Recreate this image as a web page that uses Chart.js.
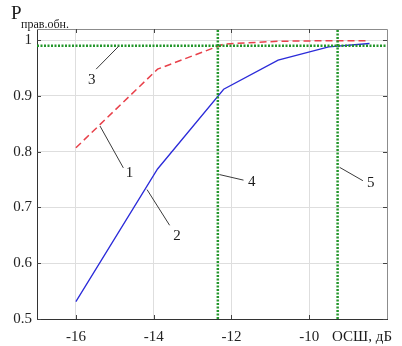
<!DOCTYPE html>
<html>
<head>
<meta charset="utf-8">
<script src="https://cdn.jsdelivr.net/npm/chart.js@4"></script>
<style>
  html, body { margin: 0; padding: 0; background: #fff; overflow: hidden; }
  #wrap { width: 402px; height: 346px; }
</style>
</head>
<body>
<div id="wrap"><canvas id="chart"></canvas></div>
<script>
// Data
const snr = [-16, -13.9, -12.2, -10.8, -9.5, -8.45];        // ОСШ, дБ
const curve1 = [0.807, 0.948, 0.993, 0.998, 0.999, 0.999];   // red dashed
const curve2 = [0.531, 0.769, 0.912, 0.964, 0.988, 0.994];   // blue solid
const threshold = 0.99;                                      // green horizontal (3)
const snrMarks = [-12.35, -9.27];                            // green verticals (4, 5)
const xTicks = [-16, -14, -12, -10];
const yTicks = [0.5, 0.6, 0.7, 0.8, 0.9, 1];
const xRange = [-17, -8];
const yRange = [0.5, 1.02];

// Curve numbers with leader lines, in data units: [text, fromX, fromY, toX, toY, textX, textY]
const callouts = [
  ['1', -15.38, 0.846, -14.78, 0.771, -14.62, 0.762],
  ['2', -14.17, 0.732, -13.59, 0.668, -13.40, 0.648],
  ['3', -14.90, 0.989, -15.48, 0.948, -15.59, 0.928],
  ['4', -12.31, 0.759, -11.69, 0.749, -11.48, 0.746],
  ['5', -9.22, 0.772, -8.62, 0.748, -8.42, 0.744],
];

const serif = '"Liberation Serif", serif';
const green = '#23962b';

const toPoints = (xs, ys) => xs.map((x, i) => ({ x: x, y: ys[i] }));

const greenLines = [
  toPoints(xRange, [threshold, threshold]),
  ...snrMarks.map((x) => toPoints([x, x], yRange)),
];

// Frame, inside ticks, callouts and axis captions
const decorPlugin = {
  id: 'decor',
  afterDatasetsDraw(chart) {
    const { ctx, chartArea: a, scales: { x, y } } = chart;
    ctx.save();

    /* Top and right edges of the box */
    ctx.strokeStyle = '#8c8c8c';
    ctx.lineWidth = 1;
    ctx.beginPath();
    ctx.moveTo(a.left, a.top + 0.5);
    ctx.lineTo(a.right + 0.5, a.top + 0.5);
    ctx.lineTo(a.right + 0.5, a.bottom);
    ctx.stroke();

    /* Ticks pointing inward */
    ctx.strokeStyle = '#444';
    ctx.beginPath();
    xTicks.forEach((v) => {
      const px = Math.round(x.getPixelForValue(v)) + 0.5;
      ctx.moveTo(px, a.top); ctx.lineTo(px, a.top + 4);
      ctx.moveTo(px, a.bottom); ctx.lineTo(px, a.bottom - 4);
    });
    yTicks.forEach((v) => {
      const py = Math.round(y.getPixelForValue(v)) + 0.5;
      ctx.moveTo(a.left, py); ctx.lineTo(a.left + 4, py);
      ctx.moveTo(a.right, py); ctx.lineTo(a.right - 4, py);
    });
    ctx.stroke();

    /* Callouts */
    ctx.strokeStyle = '#3a3a3a';
    ctx.fillStyle = '#1a1a1a';
    ctx.font = '15px ' + serif;
    ctx.textAlign = 'center';
    ctx.textBaseline = 'middle';
    callouts.forEach(([text, x0, y0, x1, y1, tx, ty]) => {
      ctx.beginPath();
      ctx.moveTo(x.getPixelForValue(x0), y.getPixelForValue(y0));
      ctx.lineTo(x.getPixelForValue(x1), y.getPixelForValue(y1));
      ctx.stroke();
      ctx.fillText(text, x.getPixelForValue(tx), y.getPixelForValue(ty));
    });

    /* Axis captions */
    ctx.textAlign = 'left';
    ctx.textBaseline = 'alphabetic';
    ctx.font = '19px ' + serif;
    ctx.fillText('P', 11, 19);
    ctx.font = '12px ' + serif;
    ctx.fillText('прав.обн.', 21, 28);
    ctx.font = '15px ' + serif;
    ctx.textAlign = 'right';
    ctx.fillText('ОСШ, дБ', 392, 341);

    ctx.restore();
  },
};

new Chart(document.getElementById('chart'), {
  type: 'line',
  data: {
    datasets: [
      ...greenLines.map((pts) => ({
        data: pts,
        borderColor: green,
        borderWidth: 2.5,
        borderDash: [2, 1.5],
        pointRadius: 0,
      })),
      {
        data: toPoints(snr, curve1),
        borderColor: '#e8404a',
        borderWidth: 1.5,
        borderDash: [7, 4],
        pointRadius: 0,
      },
      {
        data: toPoints(snr, curve2),
        borderColor: '#2b2bd9',
        borderWidth: 1.3,
        pointRadius: 0,
      },
    ],
  },
  options: {
    responsive: true,
    maintainAspectRatio: false,
    animation: false,
    layout: { padding: { left: 0, right: 15, top: 29, bottom: 0 } },
    plugins: { legend: { display: false }, tooltip: { enabled: false } },
    scales: {
      x: {
        type: 'linear',
        min: xRange[0],
        max: xRange[1],
        afterBuildTicks: (s) => { s.ticks = xTicks.map((v) => ({ value: v })); },
        afterFit: (s) => { s.height = 27; },
        grid: { color: '#dedede', drawTicks: false },
        border: { color: '#333', width: 1 },
        ticks: { padding: 9, color: '#222', font: { family: serif, size: 15 }, callback: (v) => String(v) },
      },
      y: {
        type: 'linear',
        min: yRange[0],
        max: yRange[1],
        afterBuildTicks: (s) => { s.ticks = yTicks.map((v) => ({ value: v })); },
        afterFit: (s) => { s.width = 37; },
        grid: { color: '#dedede', drawTicks: false },
        border: { color: '#333', width: 1 },
        ticks: { padding: 5, color: '#222', font: { family: serif, size: 15 }, callback: (v) => String(v) },
      },
    },
  },
  plugins: [decorPlugin],
});
</script>
</body>
</html>
